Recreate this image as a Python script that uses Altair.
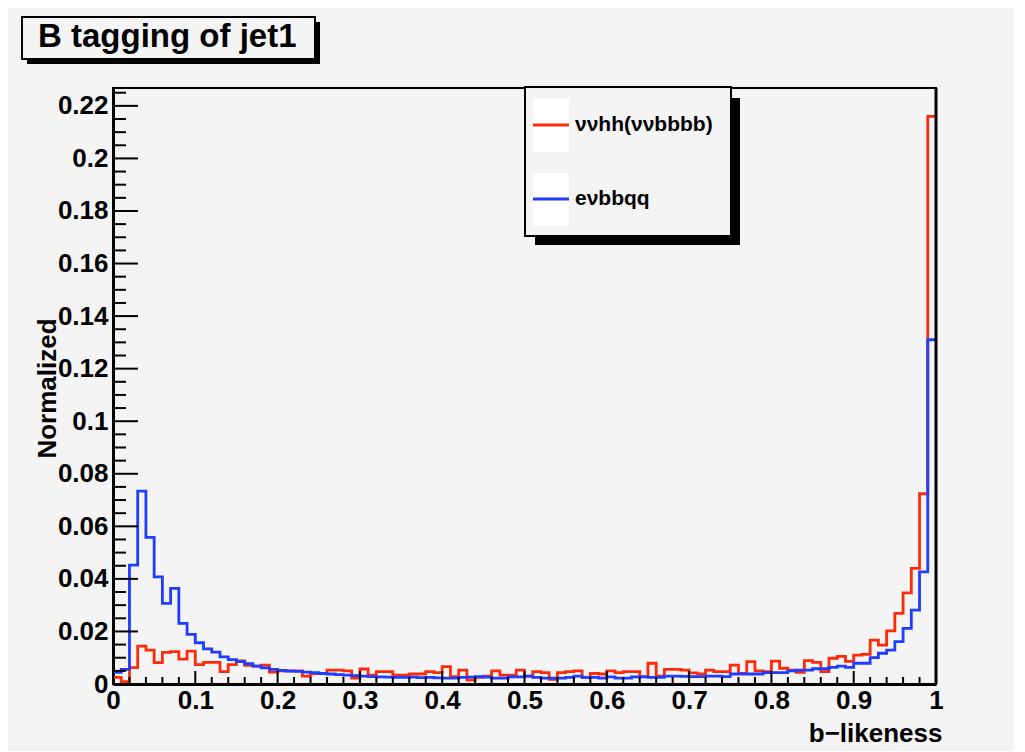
import altair as alt
import pandas as pd

# ---------------- data ----------------
bin_lo = [round(i * 0.01, 2) for i in range(100)]

red = [
    0.0025, 0.0009, 0.0062, 0.0144, 0.0129, 0.0081, 0.0120, 0.0123, 0.0095, 0.0125,
    0.0074, 0.0082, 0.0082, 0.0047, 0.0074, 0.0088, 0.0071, 0.0068, 0.0072, 0.0045,
    0.0050, 0.0050, 0.0050, 0.0030, 0.0040, 0.0040, 0.0053, 0.0053, 0.0050, 0.0022,
    0.0057, 0.0034, 0.0047, 0.0047, 0.0034, 0.0034, 0.0038, 0.0038, 0.0047, 0.0043,
    0.0066, 0.0028, 0.0053, 0.0015, 0.0025, 0.0030, 0.0050, 0.0034, 0.0034, 0.0053,
    0.0030, 0.0047, 0.0043, 0.0018, 0.0043, 0.0047, 0.0050, 0.0025, 0.0040, 0.0038,
    0.0050, 0.0043, 0.0047, 0.0047, 0.0028, 0.0079, 0.0030, 0.0056, 0.0056, 0.0053,
    0.0042, 0.0038, 0.0053, 0.0047, 0.0047, 0.0072, 0.0040, 0.0085, 0.0050, 0.0047,
    0.0087, 0.0060, 0.0053, 0.0044, 0.0089, 0.0082, 0.0047, 0.0098, 0.0105, 0.0086,
    0.0110, 0.0113, 0.0167, 0.0148, 0.0202, 0.0269, 0.0347, 0.0440, 0.0724, 0.2160,
]

blue = [
    0.0044, 0.0056, 0.0452, 0.0734, 0.0558, 0.0408, 0.0307, 0.0364, 0.0231, 0.0189,
    0.0157, 0.0134, 0.0121, 0.0103, 0.0093, 0.0085, 0.0077, 0.0068, 0.0061, 0.0056,
    0.0052, 0.0049, 0.0048, 0.0045, 0.0043, 0.0040, 0.0038, 0.0036, 0.0034, 0.0032,
    0.0030, 0.0028, 0.0027, 0.0026, 0.0025, 0.0025, 0.0026, 0.0024, 0.0025, 0.0023,
    0.0022, 0.0022, 0.0025, 0.0026, 0.0028, 0.0026, 0.0022, 0.0022, 0.0027, 0.0027,
    0.0030, 0.0025, 0.0022, 0.0022, 0.0022, 0.0025, 0.0030, 0.0025, 0.0025, 0.0022,
    0.0027, 0.0022, 0.0022, 0.0027, 0.0027, 0.0025, 0.0025, 0.0030, 0.0030, 0.0029,
    0.0028, 0.0028, 0.0030, 0.0030, 0.0028, 0.0038, 0.0038, 0.0038, 0.0038, 0.0043,
    0.0043, 0.0043, 0.0050, 0.0053, 0.0053, 0.0058, 0.0058, 0.0063, 0.0068, 0.0063,
    0.0079, 0.0079, 0.0100, 0.0117, 0.0129, 0.0161, 0.0212, 0.0281, 0.0427, 0.1310,
]

series_names = ["\u03bd\u03bdhh(\u03bd\u03bdbbbb)", "e\u03bdbbqq"]
series_colors = ["#ff2a0a", "#1f3cff"]

title_text = "B tagging of jet1"
x_title = "b\u2212likeness"
y_title = "Normalized"

x_major = [round(i * 0.1, 1) for i in range(11)]
x_minor = [round(i * 0.02, 2) for i in range(51) if i % 5 != 0]
y_major = [round(i * 0.02, 2) for i in range(12)]
y_minor = [round(i * 0.005, 3) for i in range(46) if i % 4 != 0]

Y_MAX = 0.2268
FONT = "Liberation Sans"
BG = "#f4f4f4"

# ---------------- tables ----------------
edges = bin_lo + [1.0]
rows = []
for name, vals in zip(series_names, [red, blue]):
    vv = vals + [vals[-1]]
    for e, v in zip(edges, vv):
        rows.append({"x": e, "y": v, "series": name})
hist = pd.DataFrame(rows)

xscale = alt.Scale(domain=[0, 1], nice=False, zero=False)
yscale = alt.Scale(domain=[0, Y_MAX], nice=False, zero=False)

x_axis = alt.Axis(
    values=x_major, format=".1~f", title=x_title, ticks=False,
    labelPadding=3, labelFlush=False, labelOverlap=False, grid=False,
    domainColor="black", domainWidth=3, labelFont=FONT, labelFontSize=26,
    labelFontWeight="bold", labelColor="black", titleFont=FONT,
    titleFontSize=26, titleFontWeight="bold", titleColor="black",
    titleX=829, titleY=49, titleAlign="right", titleBaseline="middle",
)
y_axis = alt.Axis(
    values=y_major, format=".2~f", title=y_title, ticks=False,
    labelPadding=5, labelOverlap=False, grid=False,
    domainColor="black", domainWidth=3, labelFont=FONT, labelFontSize=26,
    labelFontWeight="bold", labelColor="black", titleFont=FONT,
    titleFontSize=26, titleFontWeight="bold", titleColor="black",
    titleX=-66, titleY=300, titleAlign="center", titleBaseline="middle",
)

layers = []

# histogram lines (red under blue); these carry the axes
for name, col in zip(series_names, series_colors):
    layers.append(
        alt.Chart(hist)
        .transform_filter(alt.datum.series == name)
        .mark_line(interpolate="step-after", strokeWidth=2.8, color=col)
        .encode(
            x=alt.X("x:Q", scale=xscale, axis=x_axis),
            y=alt.Y("y:Q", scale=yscale, axis=y_axis),
        )
    )

# inner ticks
def yticks(vals, length):
    return (
        alt.Chart(pd.DataFrame({"y": vals}))
        .mark_rule(color="black", strokeWidth=2)
        .encode(y=alt.Y("y:Q", scale=yscale, axis=y_axis),
                x=alt.value(0), x2=alt.value(length))
    )

def xticks(vals, length):
    return (
        alt.Chart(pd.DataFrame({"x": vals}))
        .mark_rule(color="black", strokeWidth=2)
        .encode(x=alt.X("x:Q", scale=xscale, axis=x_axis),
                y=alt.value(596 - length), y2=alt.value(596))
    )

layers += [yticks(y_major, 25), yticks(y_minor, 13),
           xticks(x_major, 13), xticks(x_minor, 7)]

one = pd.DataFrame({"k": [0]})

# thick right frame edge
layers.append(
    alt.Chart(one).mark_rule(color="black", strokeWidth=3)
    .encode(x=alt.value(823), y=alt.value(0), y2=alt.value(596))
)

def box(x1, x2, y1, y2, fill, stroke=None, sw=0):
    kw = dict(fill=fill)
    if stroke is not None:
        kw.update(stroke=stroke, strokeWidth=sw)
    return alt.Chart(one).mark_rect(**kw).encode(
        x=alt.value(x1), x2=alt.value(x2), y=alt.value(y1), y2=alt.value(y2))

# title box
layers.append(box(-86, 207, -66, -24, "black"))
layers.append(box(-91, 202, -71, -29, BG, "black", 2))
layers.append(
    alt.Chart(one).mark_text(text=title_text, font=FONT, fontSize=33,
                             fontWeight="bold", align="left",
                             baseline="middle", color="black")
    .encode(x=alt.value(-75), y=alt.value(-51))
)

# legend box
layers.append(box(422, 627, 10, 157, "black"))
layers.append(box(412, 618, -1, 148, BG, "black", 2))
for i, (name, col) in enumerate(zip(series_names, series_colors)):
    top = 11 + i * 74
    mid = 37 + i * 74
    layers.append(box(420, 456, top, top + 53, "white"))
    layers.append(
        alt.Chart(one).mark_rule(color=col, strokeWidth=2.8)
        .encode(x=alt.value(420), x2=alt.value(456), y=alt.value(mid))
    )
    layers.append(
        alt.Chart(one).mark_text(text=name, font=FONT, fontSize=21,
                                 fontWeight="bold", align="left",
                                 baseline="middle", color="black")
        .encode(x=alt.value(462), y=alt.value(mid))
    )

chart = (
    alt.layer(*layers)
    .properties(
        width=823, height=596,
        padding={"left": 13, "top": 8, "right": 70, "bottom": 5},
        background=BG,
    )
    .configure_view(stroke="black", strokeWidth=2, fill=BG)
)

chart.save("out.html", embed_options={"renderer": "svg", "actions": False})
